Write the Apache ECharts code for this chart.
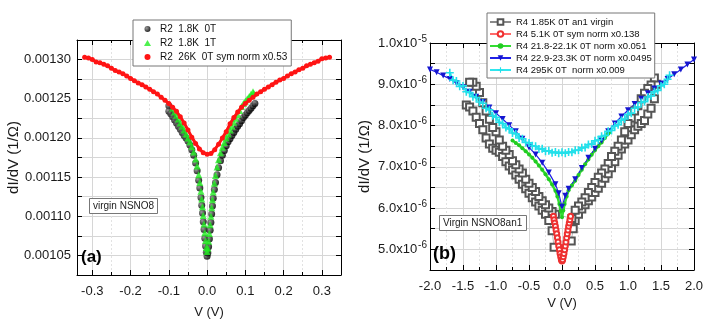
<!DOCTYPE html>
<html>
<head>
<meta charset="utf-8">
<script src="https://cdn.jsdelivr.net/npm/echarts@6/dist/echarts.min.js"></script>
<style>
html, body { margin: 0; padding: 0; background: #fff; }
#chart { width: 708px; height: 327px; }
</style>
</head>
<body>
<div id="chart"></div>
<script>
// ---- panel (a) : R2, V in volts, dI/dV in 1/Ω ----
let a0T_x = [-0.100, -0.100, -0.095, -0.090, -0.085, -0.080, -0.075, -0.070, -0.065, -0.060, -0.055, -0.050, -0.045, -0.040, -0.035, -0.030, -0.026, -0.022, -0.019, -0.016, -0.014, -0.012, -0.010, -0.008, -0.006, -0.004, -0.002, 0.000,
    0.002, 0.004, 0.006, 0.008, 0.010, 0.012, 0.014, 0.016, 0.019, 0.022, 0.026, 0.030, 0.035, 0.040, 0.045, 0.050, 0.055, 0.060, 0.065, 0.070, 0.075, 0.080, 0.085, 0.090, 0.095, 0.100, 0.105, 0.110, 0.115, 0.120, 0.125];
let a0T_y = [0.001241, 0.001234, 0.001231, 0.001227, 0.001223, 0.001219, 0.001215, 0.001211, 0.001207, 0.001203, 0.001200, 0.001196, 0.001191, 0.001185, 0.001178, 0.001168, 0.001158, 0.001146, 0.001136, 0.001124, 0.001114, 0.001104, 0.001093, 0.001083, 0.001072, 0.001062, 0.001054, 0.001049,
    0.001053, 0.001061, 0.001071, 0.001082, 0.001092, 0.001103, 0.001113, 0.001123, 0.001134, 0.001143, 0.001153, 0.001162, 0.001171, 0.001178, 0.001184, 0.001190, 0.001195, 0.001199, 0.001203, 0.001207, 0.001211, 0.001215, 0.001218, 0.001222, 0.001226, 0.001229, 0.001232, 0.001235, 0.001238, 0.001241, 0.001244];

let a1T_x = [-0.090, -0.085, -0.080, -0.075, -0.070, -0.065, -0.060, -0.055, -0.050, -0.045, -0.040, -0.035, -0.030, -0.026, -0.022, -0.019, -0.016, -0.014, -0.012, -0.010, -0.008, -0.006, -0.004, -0.002, 0.000,
    0.002, 0.004, 0.006, 0.008, 0.010, 0.012, 0.014, 0.016, 0.019, 0.022, 0.026, 0.030, 0.035, 0.040, 0.045, 0.050, 0.055, 0.060, 0.065, 0.070, 0.075, 0.080, 0.085, 0.090, 0.095, 0.100, 0.105, 0.110, 0.115, 0.120, 0.122];
let a1T_y = [0.001238, 0.001233, 0.001229, 0.001224, 0.001219, 0.001215, 0.001210, 0.001205, 0.001200, 0.001195, 0.001189, 0.001182, 0.001173, 0.001164, 0.001153, 0.001143, 0.001132, 0.001122, 0.001112, 0.001101, 0.001090, 0.001079, 0.001069, 0.001060, 0.001055,
    0.001059, 0.001068, 0.001078, 0.001089, 0.001100, 0.001111, 0.001121, 0.001131, 0.001142, 0.001152, 0.001163, 0.001172, 0.001181, 0.001188, 0.001194, 0.001200, 0.001205, 0.001210, 0.001215, 0.001220, 0.001225, 0.001230, 0.001235, 0.001240, 0.001244, 0.001247, 0.001250, 0.001253, 0.001256, 0.001259, 0.001257];

let a26K_x = [-0.32, -0.31, -0.30, -0.29, -0.28, -0.27, -0.26, -0.25, -0.24, -0.23, -0.22, -0.21, -0.20, -0.19, -0.18, -0.17, -0.16, -0.15, -0.14, -0.13, -0.12, -0.11, -0.10, -0.09, -0.08, -0.07, -0.06, -0.05, -0.04, -0.03, -0.02, -0.01, 0.00,
    0.01, 0.02, 0.03, 0.04, 0.05, 0.06, 0.07, 0.08, 0.09, 0.10, 0.11, 0.12, 0.13, 0.14, 0.15, 0.16, 0.17, 0.18, 0.19, 0.20, 0.21, 0.22, 0.23, 0.24, 0.25, 0.26, 0.27, 0.28, 0.29, 0.30, 0.31, 0.32];
let a26K_y = [0.001303, 0.001302, 0.001300, 0.001297, 0.001296, 0.001294, 0.001292, 0.001289, 0.001286, 0.001284, 0.001282, 0.001279, 0.001276, 0.001273, 0.001270, 0.001268, 0.001265, 0.001262, 0.001259, 0.001256, 0.001252, 0.001248, 0.001244, 0.001239, 0.001234, 0.001227, 0.001219, 0.001210, 0.001201, 0.001193, 0.001186, 0.001181, 0.001179,
    0.001180, 0.001185, 0.001192, 0.001200, 0.001208, 0.001218, 0.001226, 0.001233, 0.001239, 0.001244, 0.001248, 0.001252, 0.001256, 0.001259, 0.001262, 0.001265, 0.001268, 0.001271, 0.001274, 0.001276, 0.001279, 0.001282, 0.001284, 0.001287, 0.001289, 0.001292, 0.001294, 0.001296, 0.001298, 0.001301, 0.001302, 0.001303];

// ---- panel (b) : R4, V in volts, dI/dV in units of 1e-6 (1/Ω) ----
// virgin sweep, in measured order (two branches each side)
let b185_x = [-1.45, -1.40, -1.35, -1.30, -1.25, -1.20, -1.15, -1.10, -1.05, -1.00, -0.95, -0.90, -0.85, -0.80, -0.75, -0.70, -0.65, -0.60, -0.55, -0.50, -0.45, -0.40, -0.35, -0.30, -0.25, -0.20, -0.15, -0.12,
    0.14, 0.17, 0.20, 0.25, 0.30, 0.35, 0.40, 0.45, 0.50, 0.55, 0.60, 0.65, 0.70, 0.75, 0.80, 0.85, 0.90, 0.95, 1.00, 1.05, 1.10, 1.15, 1.20, 1.25, 1.30, 1.35, 1.40, 1.43,
    1.40, 1.35, 1.30, 1.25, 1.20, 1.15, 1.10, 1.05, 1.00, 0.95, 0.90, 0.85, 0.80, 0.75, 0.70, 0.65, 0.60, 0.55, 0.50, 0.45, 0.40, 0.35, 0.30, 0.25, 0.20, 0.15,
    -0.10, -0.15, -0.20, -0.25, -0.30, -0.35, -0.40, -0.45, -0.50, -0.55, -0.60, -0.65, -0.70, -0.75, -0.80, -0.85, -0.90, -0.95, -1.00, -1.05, -1.10, -1.15, -1.20, -1.25, -1.30, -1.35, -1.40];
let b185_y = [8.50, 8.45, 8.35, 8.20, 8.05, 7.90, 7.70, 7.55, 7.45, 7.40, 7.35, 7.25, 7.12, 7.02, 6.92, 6.80, 6.70, 6.58, 6.47, 6.36, 6.25, 6.15, 6.05, 5.95, 5.85, 5.70, 5.45, 5.05,
    5.20, 5.50, 5.70, 5.85, 5.98, 6.08, 6.18, 6.27, 6.38, 6.48, 6.60, 6.72, 6.83, 6.98, 7.12, 7.28, 7.43, 7.55, 7.65, 7.78, 7.90, 7.98, 8.05, 8.12, 8.28, 8.42, 8.65, 9.00,
    9.15, 8.98, 8.90, 8.78, 8.65, 8.48, 8.35, 8.18, 8.05, 7.85, 7.65, 7.50, 7.38, 7.25, 7.08, 6.95, 6.85, 6.75, 6.62, 6.50, 6.38, 6.25, 6.15, 6.05, 5.95, 5.75,
    5.85, 5.92, 6.00, 6.08, 6.18, 6.28, 6.40, 6.50, 6.60, 6.70, 6.85, 6.95, 7.05, 7.15, 7.30, 7.40, 7.50, 7.65, 7.85, 7.95, 8.15, 8.35, 8.55, 8.80, 8.95, 9.05, 9.05];

let b51_x = [-0.13, -0.12, -0.11, -0.10, -0.09, -0.08, -0.07, -0.06, -0.05, -0.04, -0.03, -0.02, -0.01, 0.00, 0.01, 0.02, 0.03, 0.04, 0.05, 0.06, 0.07, 0.08, 0.09, 0.10, 0.11, 0.12, 0.13];
let b51_y = [5.80, 5.72, 5.64, 5.56, 5.47, 5.38, 5.28, 5.18, 5.08, 4.99, 4.90, 4.82, 4.75, 4.72, 4.75, 4.82, 4.90, 4.99, 5.08, 5.18, 5.28, 5.38, 5.47, 5.56, 5.64, 5.72, 5.80];

let b218_x = [-0.75, -0.70, -0.65, -0.60, -0.55, -0.50, -0.45, -0.40, -0.35, -0.30, -0.25, -0.20, -0.15, -0.10, -0.07, -0.04, -0.02, 0.00, 0.02, 0.04, 0.07, 0.10, 0.15, 0.20, 0.25, 0.30, 0.35, 0.40, 0.45, 0.50, 0.55, 0.60, 0.65, 0.70, 0.72];
let b218_y = [7.64, 7.58, 7.52, 7.45, 7.38, 7.30, 7.22, 7.13, 7.03, 6.93, 6.82, 6.70, 6.57, 6.42, 6.28, 6.10, 5.93, 5.78, 5.94, 6.10, 6.28, 6.43, 6.55, 6.66, 6.80, 6.93, 7.06, 7.18, 7.29, 7.40, 7.50, 7.59, 7.70, 7.80, 7.84];

let b229_x = [-2.0, -1.9, -1.8, -1.7, -1.6, -1.5, -1.4, -1.3, -1.2, -1.1, -1.0, -0.9, -0.8, -0.7, -0.6, -0.5, -0.4, -0.3, -0.2, -0.1, -0.05, 0.0, 0.05, 0.1, 0.2, 0.3, 0.4, 0.5, 0.6, 0.7, 0.8, 0.9, 1.0, 1.1, 1.2, 1.3, 1.4, 1.5, 1.6, 1.7, 1.8, 1.9, 2.0];
let b229_y = [9.36, 9.29, 9.21, 9.13, 9.03, 8.93, 8.82, 8.70, 8.57, 8.44, 8.30, 8.16, 8.01, 7.86, 7.68, 7.47, 7.30, 7.10, 6.86, 6.58, 6.36, 6.03, 6.30, 6.47, 6.70, 6.97, 7.22, 7.44, 7.63, 7.86, 8.05, 8.22, 8.37, 8.52, 8.65, 8.78, 8.90, 9.02, 9.13, 9.24, 9.36, 9.48, 9.60];

let b295_x = [-1.70, -1.65, -1.60, -1.55, -1.50, -1.45, -1.40, -1.35, -1.30, -1.25, -1.20, -1.15, -1.10, -1.05, -1.00, -0.95, -0.90, -0.85, -0.80, -0.75, -0.70, -0.65, -0.60, -0.55, -0.50, -0.45, -0.40, -0.35, -0.30, -0.25, -0.20, -0.15, -0.10, -0.05, 0.00,
    0.05, 0.10, 0.15, 0.20, 0.25, 0.30, 0.35, 0.40, 0.45, 0.50, 0.55, 0.60, 0.65, 0.70, 0.75, 0.80, 0.85, 0.90, 0.95, 1.00, 1.05, 1.10, 1.15, 1.20, 1.25, 1.30, 1.35, 1.40, 1.45, 1.50, 1.55, 1.60, 1.63];
let b295_y = [9.28, 9.10, 9.08, 8.95, 8.96, 8.82, 8.80, 8.70, 8.68, 8.57, 8.54, 8.42, 8.38, 8.24, 8.20, 8.08, 8.05, 7.95, 7.92, 7.82, 7.80, 7.70, 7.68, 7.59, 7.58, 7.51, 7.50, 7.43, 7.44, 7.38, 7.39, 7.34, 7.36, 7.33, 7.35,
    7.33, 7.36, 7.35, 7.40, 7.40, 7.46, 7.47, 7.54, 7.55, 7.63, 7.65, 7.74, 7.76, 7.86, 7.88, 7.99, 8.02, 8.13, 8.16, 8.27, 8.30, 8.42, 8.45, 8.56, 8.58, 8.69, 8.72, 8.82, 8.85, 8.96, 9.00, 9.12, 9.22];

const FONT = '"Liberation Sans", Arial, sans-serif';
const TXT = '#1a1a1a';

function zip(xs, ys) {
    return xs.map(function (x, i) { return [x, ys[i]]; });
}

let myChart = echarts.init(document.getElementById('chart'));

// shared look for the boxed axes
function frameAxis(extra) {
    let base = {
        type: 'value',
        axisLine: { show: true, onZero: false, lineStyle: { color: '#000', width: 1 } },
        axisTick: { show: true, inside: true, length: 5, lineStyle: { color: '#000' } },
        minorTick: { show: false },
        splitLine: { show: false },
        axisLabel: { show: false },
        nameMoveOverlap: false,
        nameTextStyle: { fontFamily: FONT, fontSize: 13, color: TXT }
    };
    return Object.assign(base, extra);
}

const gridLine = { show: true, lineStyle: { color: '#d6d6d6', width: 1 } };
const minorGridLine = { show: true, lineStyle: { color: '#e2e2e2', width: 1, type: [2, 2] } };

let option = {
    animation: false,
    backgroundColor: '#fff',
    grid: [
        { left: 77, top: 40, width: 264, height: 235 },
        { left: 430, top: 43, width: 264, height: 227 }
    ],
    title: [
        {
            text: 'virgin NSNO8', left: 89, top: 198, padding: [3, 4, 3, 4],
            borderColor: '#777', borderWidth: 1, backgroundColor: '#fff',
            textStyle: { fontFamily: FONT, fontSize: 10, fontWeight: 'normal', color: '#222' }
        },
        {
            text: '(a)', left: 81, top: 249, padding: 0,
            textStyle: { fontFamily: FONT, fontSize: 17, fontWeight: 'bold', color: '#000' }
        },
        {
            text: 'Virgin NSNO8an1', left: 439, top: 215, padding: [3, 4, 3, 4],
            borderColor: '#777', borderWidth: 1, backgroundColor: '#fff',
            textStyle: { fontFamily: FONT, fontSize: 10, fontWeight: 'normal', color: '#222' }
        },
        {
            text: '(b)', left: 433, top: 245, padding: 0,
            textStyle: { fontFamily: FONT, fontSize: 18, fontWeight: 'bold', color: '#000' }
        }
    ],
    legend: [
        {
            data: [
                { name: 'R2  1.8K  0T', icon: 'circle' },
                { name: 'R2  1.8K  1T', icon: 'triangle' },
                { name: 'R2  26K  0T sym norm x0.53', icon: 'circle' }
            ],
            orient: 'vertical', left: 133, top: 20,
            itemWidth: 7, itemHeight: 6, itemGap: 4, padding: [4, 4, 4, 11],
            backgroundColor: '#fff', borderColor: '#777', borderWidth: 1,
            textStyle: { fontFamily: FONT, fontSize: 10, color: '#111', padding: [0, 0, 0, 4] },
            selectedMode: false
        },
        {
            data: ['R4 1.85K 0T an1 virgin', 'R4 5.1K 0T sym norm x0.138', 'R4 21.8-22.1K 0T norm x0.051',
                'R4 22.9-23.3K 0T norm x0.0495', 'R4 295K 0T  norm x0.009'],
            orient: 'vertical', left: 487, top: 13,
            itemWidth: 21, itemHeight: 7, itemGap: 2, padding: [4, 3, 3, 2],
            backgroundColor: '#fff', borderColor: '#777', borderWidth: 1,
            textStyle: { fontFamily: FONT, fontSize: 9.5, color: '#111' },
            selectedMode: false
        }
    ],
    xAxis: [
        frameAxis({
            gridIndex: 0, position: 'bottom', min: -0.34, max: 0.35, splitNumber: 7,
            minorTick: { show: true, splitNumber: 2, length: 3, lineStyle: { color: '#000' } },
            splitLine: gridLine, minorSplitLine: minorGridLine,
            axisLabel: {
                show: true, margin: 10, fontFamily: FONT, fontSize: 13, color: TXT,
                showMinLabel: false, showMaxLabel: false,
                formatter: function (v) { return v.toFixed(1); }
            },
            name: 'V (V)', nameLocation: 'middle', nameGap: 31
        }),
        frameAxis({
            gridIndex: 0, position: 'top', min: -0.34, max: 0.35, splitNumber: 7,
            minorTick: { show: true, splitNumber: 2, length: 3, lineStyle: { color: '#000' } }
        }),
        frameAxis({
            gridIndex: 1, position: 'bottom', min: -2, max: 2, interval: 0.5,
            minorTick: { show: true, splitNumber: 2, length: 3, lineStyle: { color: '#000' } },
            splitLine: gridLine, minorSplitLine: minorGridLine,
            axisLabel: {
                show: true, margin: 10, fontFamily: FONT, fontSize: 13, color: TXT,
                formatter: function (v) { return v.toFixed(1); }
            },
            name: 'V (V)', nameLocation: 'middle', nameGap: 27
        }),
        frameAxis({
            gridIndex: 1, position: 'top', min: -2, max: 2, interval: 0.5,
            minorTick: { show: true, splitNumber: 2, length: 3, lineStyle: { color: '#000' } }
        })
    ],
    yAxis: [
        frameAxis({
            gridIndex: 0, position: 'left', min: 0.001025, max: 0.001325, interval: 0.000025,
            splitLine: gridLine,
            axisLabel: {
                show: true, margin: 6, fontFamily: FONT, fontSize: 13, color: TXT,
                formatter: function (v) {
                    return Math.round(v / 0.000025) % 2 === 0 ? v.toFixed(5) : '';
                }
            },
            name: 'dI/dV (1/Ω)', nameLocation: 'middle', nameGap: 56,
            nameTextStyle: { fontFamily: FONT, fontSize: 15, color: TXT }
        }),
        frameAxis({ gridIndex: 0, position: 'right', min: 0.001025, max: 0.001325, interval: 0.000025 }),
        frameAxis({
            gridIndex: 1, position: 'left', min: 4.5, max: 10, interval: 0.5,
            splitLine: gridLine,
            axisLabel: {
                show: true, margin: 3,
                formatter: function (v) {
                    if (Math.abs(v - Math.round(v)) > 1e-6) return '';
                    if (Math.round(v) === 10) return '{m|1.0x10}{e|-5}';
                    return '{m|' + v.toFixed(1) + 'x10}{e|-6}';
                },
                rich: {
                    m: { fontFamily: FONT, fontSize: 13, color: TXT },
                    e: { fontFamily: FONT, fontSize: 10, color: TXT, verticalAlign: 'top', padding: [0, 0, 8, 1] }
                }
            },
            name: 'dI/dV (1/Ω)', nameLocation: 'middle', nameGap: 58,
            nameTextStyle: { fontFamily: FONT, fontSize: 15, color: TXT }
        }),
        frameAxis({ gridIndex: 1, position: 'right', min: 4.5, max: 10, interval: 0.5 })
    ],
    series: [
        {
            name: 'R2  1.8K  0T', type: 'scatter', xAxisIndex: 0, yAxisIndex: 0,
            data: zip(a0T_x, a0T_y), symbol: 'circle', symbolSize: 7,
            itemStyle: {
                color: new echarts.graphic.RadialGradient(0.35, 0.35, 0.6, [
                    { offset: 0, color: '#808080' }, { offset: 1, color: '#000' }
                ])
            }
        },
        {
            name: 'R2  1.8K  1T', type: 'scatter', xAxisIndex: 0, yAxisIndex: 0,
            data: zip(a1T_x, a1T_y), symbol: 'triangle', symbolSize: 7,
            itemStyle: { color: '#22ee22' }
        },
        {
            name: 'R2  26K  0T sym norm x0.53', type: 'line', xAxisIndex: 0, yAxisIndex: 0,
            data: zip(a26K_x, a26K_y), symbol: 'circle', symbolSize: 5, showSymbol: true,
            lineStyle: { color: '#ff1414', width: 3 },
            itemStyle: { color: '#ff1414' }
        },
        {
            name: 'R4 1.85K 0T an1 virgin', type: 'line', xAxisIndex: 2, yAxisIndex: 2,
            data: zip(b185_x, b185_y), symbol: 'emptyRect', symbolSize: 7, showSymbol: true,
            lineStyle: { color: '#8a8a8a', width: 0.6 },
            itemStyle: { color: '#555', borderWidth: 0.9 }
        },
        {
            name: 'R4 5.1K 0T sym norm x0.138', type: 'line', xAxisIndex: 2, yAxisIndex: 2,
            data: zip(b51_x, b51_y), symbol: 'emptyCircle', symbolSize: 5, showSymbol: true,
            lineStyle: { color: '#ff6a6a', width: 1 },
            itemStyle: { color: '#ee3030', borderWidth: 0.8 }
        },
        {
            name: 'R4 21.8-22.1K 0T norm x0.051', type: 'line', xAxisIndex: 2, yAxisIndex: 2,
            data: zip(b218_x, b218_y), symbol: 'circle', symbolSize: 4, showSymbol: true,
            lineStyle: { color: '#33dd33', width: 2.5 },
            itemStyle: { color: '#22cc22' }
        },
        {
            name: 'R4 22.9-23.3K 0T norm x0.0495', type: 'line', xAxisIndex: 2, yAxisIndex: 2,
            data: zip(b229_x, b229_y), symbol: 'triangle', symbolRotate: 180, symbolSize: 6, showSymbol: true,
            lineStyle: { color: '#2020e6', width: 1.2 },
            itemStyle: { color: '#1515d0' }
        },
        {
            name: 'R4 295K 0T  norm x0.009', type: 'line', xAxisIndex: 2, yAxisIndex: 2,
            data: zip(b295_x, b295_y), symbol: 'path://M4,0h2v4h4v2h-4v4h-2v-4h-4v-2h4z', symbolSize: 8, showSymbol: true,
            lineStyle: { color: '#30e6ee', width: 2 },
            itemStyle: { color: '#22e0ea' }
        }
    ]
};

myChart.setOption(option);
</script>
</body>
</html>
